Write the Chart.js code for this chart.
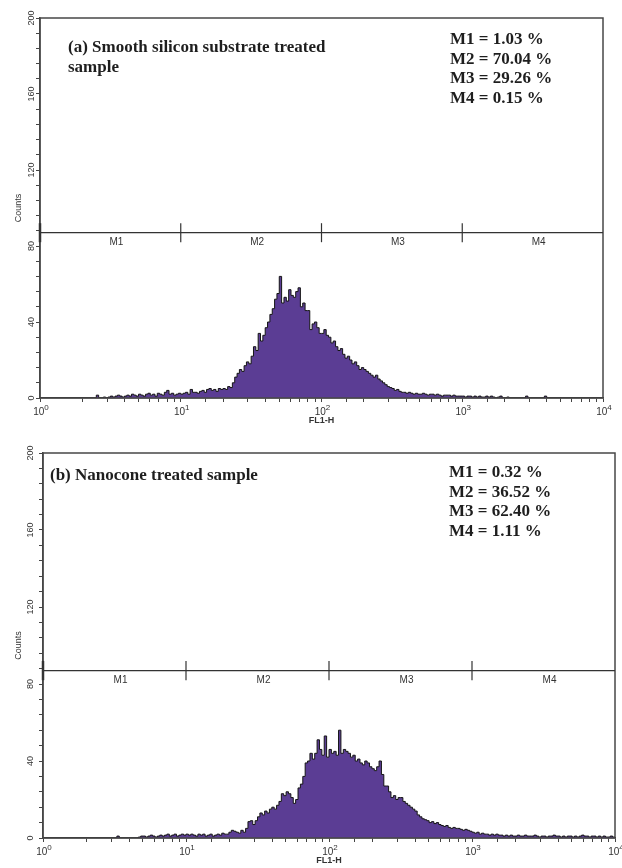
<!DOCTYPE html>
<html>
<head>
<meta charset="utf-8">
<script src="https://cdn.jsdelivr.net/npm/chart.js@4/dist/chart.umd.min.js"></script>
<style>
  body { margin: 0; background: #fff; }
  .box { position: absolute; left: 0; width: 622px; }
</style>
</head>
<body>
<div class="box" style="top:0;height:430px"><canvas id="chartA" width="622" height="430"></canvas></div>
<div class="box" style="top:435px;height:433px"><canvas id="chartB" width="622" height="433"></canvas></div>
<script>
// histogram channels: 60 bins per decade from 10^0 to 10^4
const binsPerDecade = 60;

// (a) smooth silicon substrate, counts per bin
const countsA = [
  0,0,0,0,0,0, 0,0,0,0,0,0, 0,0,0,0,0,0, 0,0,0,0,0,0,
  1.5,0,0,0.5,0,0.5, 1,0.5,1,1.5,1,0.5, 1,1.5,1,2,1.5,1,
  2,1.5,1,2,2.5,1.5, 2,1,2.5,2,1.5,3, 4,2,2.5,1.5,2,2.5,
  // 10 - 100
  2,2.5,3,2,4.5,3, 3,2.5,3.5,4,3,4.5, 5,4,4.5,3.5,5,4.5,
  5,4.5,6,5.5,8,11, 13,15,14,17,19,18, 22,27,25,34,30,33,
  37,40,44,47,52,55, 64,50,53,51,57,54, 53,56,58,48,50,46,
  46,36,39,40,37,34,
  // 100 - 1000
  34,36,33,32,29,30, 27,25,26,23,21,22, 20,18,19,17,15,16,
  15,14,13,12,11,12, 10,9,8,7,6,5.5, 5,4,4.5,3.5,3,3,
  2.5,3,2.5,2,2.5,2, 2,2.5,2,1.5,2,2, 1.5,2,1.5,1,1.5,1.5,
  1.5,1,1.5,1,1,1,
  // 1000 - 10000
  1,0.5,1,1,0.5,1, 0.5,1,0.5,0.5,1,0.5, 1,0.5,0,0.5,1,0,
  0,0.5,0,0,0,0, 0,0,0,1,0,0, 0,0,0,0,0,1,
  0,0,0,0,0,0, 0,0,0,0,0,0, 0,0,0,0,0,0, 0,0,0,0,0,0
];

// (b) nanocone treated sample
const countsB = [
  0,0,0,0,0,0, 0,0,0,0,0,0, 0,0,0,0,0,0, 0,0,0,0,0,0, 0,0,0,0,0,0,
  0,1,0,0,0,0, 0,0,0,0,0.5,1, 1,0.5,1,1.5,1,0.5, 1,1.5,1,1.5,2,1,
  1.5,2,1,1.5,2,1.5,
  // 10 - 100
  2,1.5,2,1.5,1,2, 1.5,2,1,1.5,2,1, 1.5,2,1.5,2.5,2,2,
  3,4,3.5,3,2.5,4, 3,5,8.5,9,7,9, 11,13,12,14,13,15,
  16,15,17,19,23,22, 24,23,21,18,20,26, 28,32,39,40,44,41,
  44,51,46,43,53,42,
  // 100 - 1000
  46,44,45,43,56,44, 46,45,44,42,43,40, 41,39,38,40,39,37,
  36,35,37,40,33,27, 27,24,21,22,20,21, 21,19,18,17,16,15,
  14,12,11,10,9.5,9, 8,8.5,7.5,8,7,6.5, 6,6.5,5.5,5,5.5,5,
  5,4.5,4,4.5,4,3.5,
  // 1000 - 10000
  3,2.5,3,2,2.5,2, 2,1.5,2,1.5,2,1.5, 1.5,1,1.5,1,1.5,1,
  1,1.5,1,1,1.5,1, 1,1,1.5,1,0.5,1, 1,0.5,1,1,1.5,1,
  1,0.5,1,0.5,1,1, 0.5,1,0.5,1,1.5,1, 1,0.5,1,1,0.5,1,
  0.5,1,0.5,0.5,1,0.5
];

const markerEdges = [1, 10, 100, 1000, 10000];
const markerNames = ['M1', 'M2', 'M3', 'M4'];
const markerLevel = 87;
const pctA = ['1.03', '70.04', '29.26', '0.15'];
const pctB = ['0.32', '36.52', '62.40', '1.11'];
const titleA = ['(a) Smooth silicon substrate treated', 'sample'];
const titleB = ['(b) Nanocone treated sample'];
const decades = [1, 10, 100, 1000, 10000];
const exponents = ['0', '1', '2', '3', '4'];

function toPoints(counts) {
  const pts = counts.map((c, i) => ({ x: Math.pow(10, i / binsPerDecade), y: c }));
  pts.push({ x: 10000, y: counts[counts.length - 1] }); // close last step
  return pts;
}

// frame, marker bars, decade labels and the text inside the plot
const decor = {
  id: 'decor',
  afterDraw(chart, args, o) {
    const { ctx, chartArea: a, scales: { x, y } } = chart;
    ctx.save();
    ctx.strokeStyle = '#474747';
    ctx.lineWidth = 1.5;
    ctx.strokeRect(a.left, a.top, a.right - a.left, a.bottom - a.top);

    const my = y.getPixelForValue(markerLevel);
    ctx.strokeStyle = '#333';
    ctx.lineWidth = 1.2;
    ctx.beginPath();
    ctx.moveTo(a.left, my);
    ctx.lineTo(a.right, my);
    ctx.stroke();
    for (let i = 0; i < markerEdges.length - 1; i++) {
      const px = x.getPixelForValue(markerEdges[i]);
      ctx.lineWidth = i === 0 ? 2.5 : 1.2;
      ctx.beginPath();
      ctx.moveTo(px, y.getPixelForValue(markerLevel + 5));
      ctx.lineTo(px, y.getPixelForValue(markerLevel - 5));
      ctx.stroke();
    }
    ctx.fillStyle = '#333';
    ctx.font = "10px 'Liberation Sans', Arial, sans-serif";
    ctx.textAlign = 'center';
    ctx.textBaseline = 'middle';
    markerNames.forEach((m, i) => {
      const mid = Math.sqrt(markerEdges[i] * markerEdges[i + 1]);
      ctx.fillText(m, x.getPixelForValue(mid) + 6, my + 10);
    });

    // decade labels 10^n with a raised exponent
    ctx.textBaseline = 'alphabetic';
    decades.forEach((d, i) => {
      const px = x.getPixelForValue(d);
      ctx.font = "10px 'Liberation Sans', Arial, sans-serif";
      const w = ctx.measureText('10').width;
      ctx.font = "8px 'Liberation Sans', Arial, sans-serif";
      const we = ctx.measureText(exponents[i]).width;
      const x0 = px - (w + we) / 2 + 1;
      ctx.textAlign = 'left';
      ctx.font = "10px 'Liberation Sans', Arial, sans-serif";
      ctx.fillText('10', x0, a.bottom + 17);
      ctx.font = "8px 'Liberation Sans', Arial, sans-serif";
      ctx.fillText(exponents[i], x0 + w, a.bottom + 12);
    });

    ctx.fillStyle = '#1e1e1e';
    ctx.font = "bold 17px 'Liberation Serif', 'Times New Roman', serif";
    ctx.textAlign = 'left';
    o.title.forEach((t, i) => ctx.fillText(t, a.left + o.titleAt[0], a.top + o.titleAt[1] + i * 20));
    o.pcts.forEach((p, i) => ctx.fillText(markerNames[i] + ' = ' + p + ' %', a.left + o.pctAt[0], a.top + o.pctAt[1] + i * 19.7));
    ctx.restore();
  }
};

function makeChart(id, counts, pcts, title, c) {
  const ctx = document.getElementById(id).getContext('2d');
  return new Chart(ctx, {
    type: 'line',
    data: {
      datasets: [{
        data: toPoints(counts),
        stepped: 'before',
        fill: 'origin',
        backgroundColor: '#5b3d94',
        borderColor: '#151515',
        borderWidth: 1,
        pointRadius: 0
      }]
    },
    options: {
      responsive: false,
      animation: false,
      layout: { padding: { top: 18, right: c.padRight, left: 0, bottom: 0 } },
      plugins: {
        legend: { display: false },
        tooltip: { enabled: false },
        decor: { title: title, pcts: pcts, titleAt: c.titleAt, pctAt: c.pctAt }
      },
      scales: {
        x: {
          type: 'logarithmic',
          min: 1,
          max: 10000,
          ticks: {
            autoSkip: false, maxRotation: 0, minRotation: 0, padding: 1,
            font: { size: 10 },
            callback: () => ''
          },
          grid: { drawOnChartArea: false, tickLength: 4, color: '#444' },
          border: { color: '#444', width: 1.5 },
          title: {
            display: true, text: 'FL1-H', color: '#333',
            font: { size: 9, weight: 'bold', family: "'Liberation Sans', sans-serif" },
            padding: { top: 0, bottom: c.xTitlePad }
          },
          afterFit: s => { s.height = c.xHeight; }
        },
        y: {
          min: 0,
          max: 200,
          ticks: {
            stepSize: 8, autoSkip: false, minRotation: 90, maxRotation: 90,
            crossAlign: 'center', padding: c.yTickPad, color: '#333',
            font: { size: 9, family: "'Liberation Sans', sans-serif" },
            callback: v => (v % 40 === 0 ? v : '')
          },
          grid: { drawOnChartArea: false, tickLength: 4, color: '#444' },
          border: { color: '#444', width: 1.5 },
          title: {
            display: true, text: 'Counts', color: '#333',
            font: { size: 9, family: "'Liberation Sans', sans-serif" },
            padding: { top: 13, bottom: 0 }
          },
          afterFit: s => { s.width = c.yWidth; }
        }
      }
    },
    plugins: [decor]
  });
}

makeChart('chartA', countsA, pctA, titleA,
  { yWidth: 40, xHeight: 32, padRight: 19, xTitlePad: 4.5, yTickPad: -3, titleAt: [28, 34], pctAt: [410, 26] });
makeChart('chartB', countsB, pctB, titleB,
  { yWidth: 43, xHeight: 30, padRight: 7, xTitlePad: 2.5, yTickPad: 1, titleAt: [7, 27], pctAt: [406, 24] });
</script>
</body>
</html>
